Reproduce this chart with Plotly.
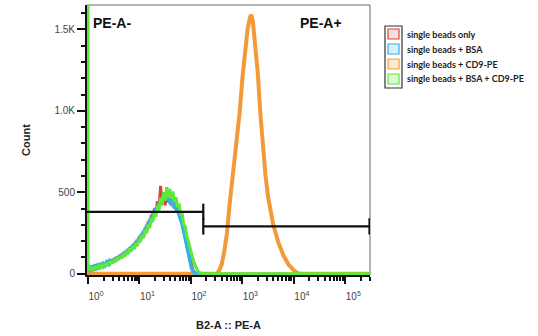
import plotly.graph_objects as go

# ---------------- data (log10 of PE-A intensity, event counts) ----------------
NEG_LOGX = [0.00, 0.03, 0.06, 0.09, 0.12, 0.15, 0.18, 0.21, 0.24, 0.27, 0.30, 0.33,
            0.36, 0.39, 0.42, 0.45, 0.48, 0.51, 0.54, 0.57, 0.60, 0.63, 0.66, 0.69,
            0.72, 0.75, 0.78, 0.81, 0.84, 0.87, 0.90, 0.93, 0.96, 0.99, 1.02, 1.05,
            1.08, 1.11, 1.14, 1.17, 1.20, 1.23, 1.26, 1.29, 1.32, 1.35, 1.38, 1.41,
            1.44, 1.47, 1.50, 1.53, 1.56, 1.59, 1.62, 1.65, 1.68, 1.71, 1.74, 1.77,
            1.80, 1.83, 1.86, 1.89, 1.92, 1.95, 1.98, 2.01, 2.04, 2.07, 2.10, 2.13,
            2.16, 2.19, 2.22]
RED_COUNTS = [20, 32, 24, 40, 30, 46, 35, 52, 40, 58, 46, 66, 52, 72, 60, 82, 68, 95,
              78, 105, 90, 118, 100, 130, 112, 145, 125, 160, 140, 178, 158, 200, 180,
              225, 205, 250, 230, 282, 262, 320, 300, 360, 335, 400, 370, 445, 400, 540,
              430, 500, 420, 530, 440, 480, 420, 460, 400, 420, 380, 390, 330, 320, 260,
              230, 170, 130, 80, 45, 20, 8, 2, 0, 0, 0, 0]
BLUE_COUNTS = [28, 20, 38, 26, 45, 32, 50, 38, 55, 45, 62, 50, 70, 58, 78, 65, 88, 75,
               100, 85, 110, 95, 122, 108, 138, 120, 152, 135, 168, 150, 188, 170, 210,
               192, 238, 218, 265, 248, 300, 280, 335, 315, 372, 350, 405, 385, 440, 420,
               470, 445, 480, 455, 470, 440, 450, 420, 425, 395, 390, 360, 340, 300, 260,
               210, 160, 110, 70, 35, 12, 4, 0, 0, 0, 0, 0]
GREEN_COUNTS = [22, 35, 18, 40, 25, 45, 30, 50, 38, 55, 42, 62, 48, 70, 55, 78, 62, 90,
                72, 100, 85, 112, 95, 125, 105, 140, 120, 155, 138, 172, 150, 190, 170,
                215, 195, 240, 220, 270, 250, 305, 280, 340, 320, 380, 350, 420, 390, 465,
                420, 500, 450, 530, 470, 520, 460, 505, 440, 470, 410, 430, 360, 370, 300,
                290, 230, 200, 160, 120, 90, 60, 35, 18, 8, 2, 0]
GREEN_EDGE_COUNT = 1700   # off-scale first bin piled on the axis
TAIL_LOGX = [2.22, 5.5]
TAIL_COUNTS = [0, 0]

ORANGE_LOGX = [0.0, 2.40, 2.50, 2.55, 2.60, 2.65, 2.70, 2.75, 2.80, 2.85, 2.90, 2.95,
               3.00, 3.05, 3.10, 3.15, 3.17, 3.20, 3.25, 3.30, 3.35, 3.40, 3.45, 3.50,
               3.55, 3.60, 3.70, 3.80, 3.90, 4.00, 4.08, 4.15, 5.50]
ORANGE_COUNTS = [0, 0, 0, 20, 60, 140, 250, 420, 560, 700, 850, 1000,
                 1200, 1380, 1500, 1575, 1590, 1560, 1420, 1230, 980, 770, 600, 470,
                 380, 300, 190, 110, 55, 20, 3, 0, 0]

GATE_SPLIT_LOG = 2.24
GATE_NEG_Y = 380
GATE_POS_Y = 290
GATE_LEFT_LOG = -0.02
GATE_RIGHT_LOG = 5.47

SERIES_NAMES = ["single beads only", "single beads + BSA", "single beads + CD9-PE",
                "single beads + BSA + CD9-PE"]
LINE_COLORS = ["#d9453d", "#2fb3e8", "#f39a38", "#5de83a"]
SWATCH_FILL = ["#f7dede", "#d8f1fb", "#fbe9d4", "#ddf9d4"]

X_TICK_EXP = [0, 1, 2, 3, 4, 5]
Y_TICKS = [0, 500, 1000, 1500]
Y_TICK_TEXT = ["0", "500", "1.0K", "1.5K"]
Y_MINOR = [100, 200, 300, 400, 600, 700, 800, 900, 1100, 1200, 1300, 1400, 1600]

# ---------------- figure ----------------
def p10(v):
    return [10 ** a for a in v]

fig = go.Figure()

fig.add_trace(go.Scatter(x=p10(TAIL_LOGX), y=TAIL_COUNTS, mode="lines",
                         line=dict(color=LINE_COLORS[0], width=2.5), showlegend=False))
fig.add_trace(go.Scatter(x=p10(ORANGE_LOGX), y=ORANGE_COUNTS, mode="lines",
                         line=dict(color=LINE_COLORS[2], width=4), showlegend=False))
fig.add_trace(go.Scatter(x=p10(NEG_LOGX), y=RED_COUNTS, mode="lines",
                         line=dict(color=LINE_COLORS[0], width=3), showlegend=False))
fig.add_trace(go.Scatter(x=p10(NEG_LOGX), y=BLUE_COUNTS, mode="lines",
                         line=dict(color=LINE_COLORS[1], width=3.5), showlegend=False))
fig.add_trace(go.Scatter(x=p10([NEG_LOGX[0]] + NEG_LOGX + TAIL_LOGX[1:]),
                         y=[GREEN_EDGE_COUNT] + GREEN_COUNTS + TAIL_COUNTS[1:], mode="lines",
                         line=dict(color=LINE_COLORS[3], width=3), showlegend=False))

# gates
cap = 50
gx = [10 ** GATE_LEFT_LOG, 10 ** GATE_SPLIT_LOG, None,
      10 ** GATE_SPLIT_LOG, 10 ** GATE_SPLIT_LOG, None,
      10 ** GATE_SPLIT_LOG, 10 ** GATE_RIGHT_LOG, None,
      10 ** GATE_SPLIT_LOG, 10 ** GATE_SPLIT_LOG, None,
      10 ** GATE_RIGHT_LOG, 10 ** GATE_RIGHT_LOG]
gy = [GATE_NEG_Y, GATE_NEG_Y, None,
      GATE_NEG_Y - cap, GATE_NEG_Y + cap, None,
      GATE_POS_Y, GATE_POS_Y, None,
      GATE_POS_Y - cap, GATE_POS_Y + cap, None,
      GATE_POS_Y - cap, GATE_POS_Y + cap]
fig.add_trace(go.Scatter(x=gx, y=gy, mode="lines", line=dict(color="#111111", width=2.2),
                         showlegend=False))

fig.add_annotation(x=0.015, y=0.935, xref="paper", yref="paper", text="<b>PE-A-</b>",
                   showarrow=False, xanchor="left", yanchor="middle",
                   font=dict(family="Liberation Sans", size=14, color="#111"))
fig.add_annotation(x=0.745, y=0.935, xref="paper", yref="paper", text="<b>PE-A+</b>",
                   showarrow=False, xanchor="left", yanchor="middle",
                   font=dict(family="Liberation Sans", size=14, color="#111"))

# legend (manual)
ref_w = 538 - 87 - 168
ref_h = 336 - 5 - 61
def px_x(px):
    return (px - 87) / ref_w
def px_y(py):
    return (336 - 61 - py) / ref_h

row_y = [34, 49, 64, 79]
fig.add_shape(type="rect", xref="paper", yref="paper", x0=px_x(385), x1=px_x(402),
              y0=px_y(88), y1=px_y(26), line=dict(color="#333", width=1.2),
              fillcolor="rgba(0,0,0,0)")
for i, name in enumerate(SERIES_NAMES):
    fig.add_shape(type="rect", xref="paper", yref="paper",
                  x0=px_x(388), x1=px_x(399), y0=px_y(row_y[i] + 5), y1=px_y(row_y[i] - 5),
                  line=dict(color=LINE_COLORS[i], width=1.2), fillcolor=SWATCH_FILL[i])
    fig.add_annotation(x=px_x(405), y=px_y(row_y[i]), xref="paper", yref="paper",
                       text="<b>" + name + "</b>", showarrow=False, xanchor="left",
                       yanchor="middle", font=dict(family="Lato", size=9, color="#222"))

fig.update_layout(
    width=538, height=336,
    margin=dict(l=87, r=168, t=5, b=61),
    paper_bgcolor="white", plot_bgcolor="white",
    showlegend=False,
    xaxis=dict(type="log", range=[-0.02, 5.48],
               tickvals=p10(X_TICK_EXP),
               ticktext=["10<sup>%d</sup>" % e for e in X_TICK_EXP],
               ticks="outside", ticklen=7, tickwidth=2, tickcolor="#111",
               ticklabelshift=8, ticklabelstandoff=4,
               minor=dict(tickmode="array",
                          tickvals=[k * 10 ** e for e in X_TICK_EXP for k in range(2, 10)],
                          ticks="outside", ticklen=4, tickwidth=1.5, tickcolor="#111"),
               showgrid=False, zeroline=False,
               showline=True, linecolor="#111", linewidth=2, mirror=False,
               tickfont=dict(family="Liberation Sans", size=10, color="#444"),
               title=dict(text="<b>B2-A :: PE-A</b>", standoff=20,
                          font=dict(family="Liberation Sans", size=11, color="#222"))),
    yaxis=dict(range=[-8, 1650], tickvals=Y_TICKS, ticktext=Y_TICK_TEXT,
               ticks="outside", ticklen=8, tickwidth=2, tickcolor="#111",
               minor=dict(tickmode="array", tickvals=Y_MINOR, ticks="outside",
                          ticklen=4, tickwidth=1.5, tickcolor="#111"),
               showgrid=False, zeroline=False,
               showline=True, linecolor="#111", linewidth=2,
               tickfont=dict(family="Liberation Sans", size=10, color="#444"),
               title=dict(text="<b>Count</b>", standoff=22,
                          font=dict(family="Liberation Sans", size=11, color="#222"))),
)
fig.add_shape(type="rect", xref="paper", yref="paper", x0=0, x1=1, y0=0, y1=1,
              line=dict(color="#666", width=1), layer="below")

fig.write_html("out.html")
